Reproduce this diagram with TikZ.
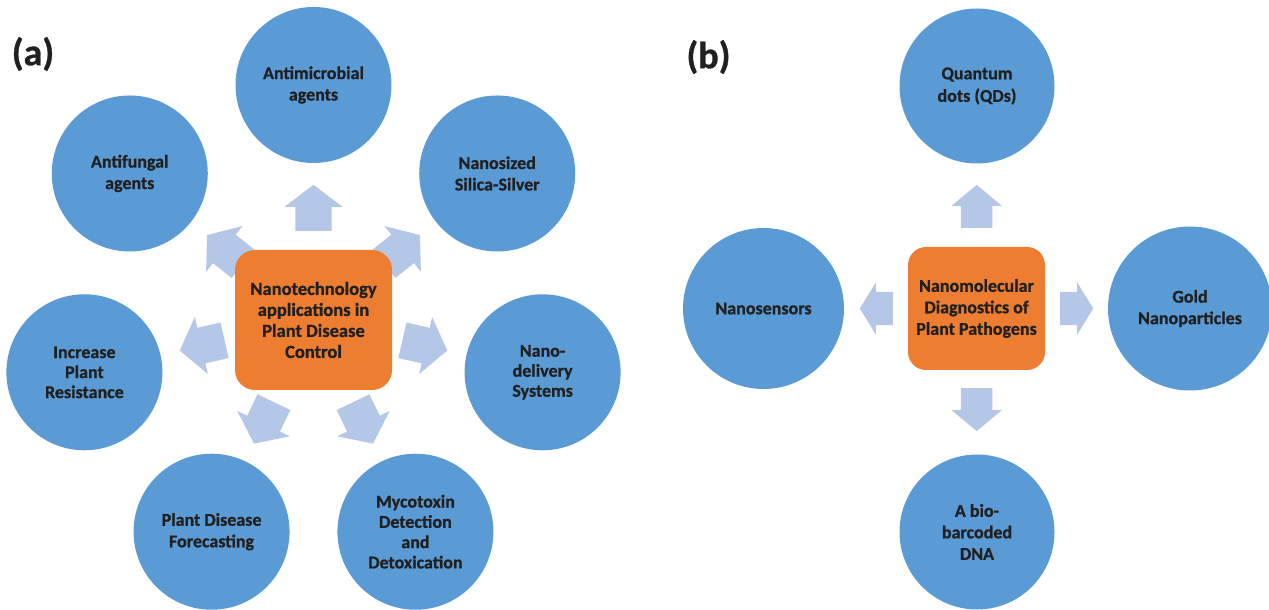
\documentclass[tikz,border=0pt]{standalone}
\usepackage{fontspec}
\setmainfont{Carlito}[BoldFeatures={FakeBold=0.8}]
\usetikzlibrary{shapes.arrows,calc,backgrounds}
\definecolor{cblue}{HTML}{5B9BD5}
\definecolor{corange}{HTML}{ED7D31}
\definecolor{carrow}{HTML}{B4C7E7}
\definecolor{ctext}{HTML}{202020}
\tikzset{
  bubble/.style={circle, fill=cblue, inner sep=0pt, align=center, text=ctext,
    font=\bfseries\fontsize{18}{21.5}\selectfont},
  hub/.style={rectangle, fill=corange, inner sep=0pt, align=center, text=ctext,
    font=\bfseries\fontsize{18.5}{21}\selectfont},
  blockarrow/.style={single arrow, fill=carrow, draw=none, inner xsep=0pt,
    single arrow head indent=0pt, minimum width=0pt, anchor=tail},
  arra/.style={blockarrow, minimum height=46pt, inner ysep=18pt,
    single arrow head extend=11pt, single arrow tip angle=105.6},
  arrbv/.style={blockarrow, minimum height=43pt, inner ysep=15.5pt,
    single arrow head extend=9.5pt, single arrow tip angle=99.9},
  arrbh/.style={blockarrow, minimum height=33pt, inner ysep=16.5pt,
    single arrow head extend=9.5pt, single arrow tip angle=116.8},
  panel/.style={text=ctext, font=\bfseries\fontsize{38}{40}\selectfont, inner sep=0pt}
}
\begin{document}
\begin{tikzpicture}[x=1pt,y=1pt]
\useasboundingbox (0,0) rectangle (1269,610);
% ---------- panel (a) ----------
\node[panel] (la) at (33,556) {(a)};
\node[hub, minimum width=157pt, minimum height=140pt, rounded corners=20pt] (ca) at (313.5,290)
  {Nanotechnology\\applications in\\Plant Disease\\Control};
\node[bubble, minimum size=156pt] (a1) at ($(ca)+(90:235)$) {Antimicrobial\\agents};
\node[bubble, minimum size=156pt] (a2) at ($(ca)+(38.57:235)$) {Nanosized\\Silica-Silver};
\node[bubble, minimum size=156pt, font=\bfseries\fontsize{18}{20}\selectfont] (a3) at ($(ca)+(-12.86:235)$) {Nano-\\delivery\\Systems};
\node[bubble, minimum size=156pt, font=\bfseries\fontsize{18}{20.3}\selectfont] (a4) at ($(ca)+(-64.29:235)$) {Mycotoxin\\Detection\\and\\Detoxication};
\node[bubble, minimum size=156pt] (a5) at ($(ca)+(-115.71:235)$) {Plant Disease\\Forecasting};
\node[bubble, minimum size=156pt, font=\bfseries\fontsize{18}{20}\selectfont] (a6) at ($(ca)+(-167.14:235)$) {Increase\\Plant\\Resistance};
\node[bubble, minimum size=156pt] (a7) at ($(ca)+(141.43:235)$) {Antifungal\\agents};
\begin{pgfonlayer}{background}
\node[arra, rotate=90] (r1) at ($(ca)!89pt!(a1)$) {};
\node[arra, rotate=38.57] (r2) at ($(ca)!90pt!(a2)$) {};
\node[arra, rotate=-12.86] (r3) at ($(ca)!91pt!(a3)$) {};
\node[arra, rotate=-64.29] (r4) at ($(ca)!91pt!(a4)$) {};
\node[arra, rotate=-115.71] (r5) at ($(ca)!91pt!(a5)$) {};
\node[arra, rotate=-167.14] (r6) at ($(ca)!91pt!(a6)$) {};
\node[arra, rotate=141.43] (r7) at ($(ca)!90pt!(a7)$) {};
\end{pgfonlayer}
% ---------- panel (b) ----------
\node[panel] (lb) at (708.5,553) {(b)};
\node[hub, minimum width=137pt, minimum height=123pt, rounded corners=18pt,
  font=\bfseries\fontsize{18}{21.5}\selectfont] (cb) at (976.5,301.5)
  {Nanomolecular\\Diagnostics of\\Plant Pathogens};
\node[bubble, minimum size=155pt, font=\bfseries\fontsize{18}{22.5}\selectfont] (b1) at (977,524) {Quantum\\dots (QDs)};
\node[bubble, minimum size=164pt] (b2) at (1190,301.5) {Gold\\Nanoparticles};
\node[bubble, minimum size=155pt] (b3) at (977,78) {A bio-\\barcoded\\DNA};
\node[bubble, minimum size=161pt] (b4) at (763.5,301.5) {Nanosensors};
\begin{pgfonlayer}{background}
\node[arrbv, rotate=90] (s1) at ($(cb)!80.5pt!(b1)$) {};
\node[arrbh, rotate=0] (s2) at ($(cb)!83.5pt!(b2)$) {};
\node[arrbv, rotate=-90] (s3) at ($(cb)!79.5pt!(b3)$) {};
\node[arrbh, rotate=180] (s4) at ($(cb)!83.5pt!(b4)$) {};
\end{pgfonlayer}
\end{tikzpicture}
\end{document}
